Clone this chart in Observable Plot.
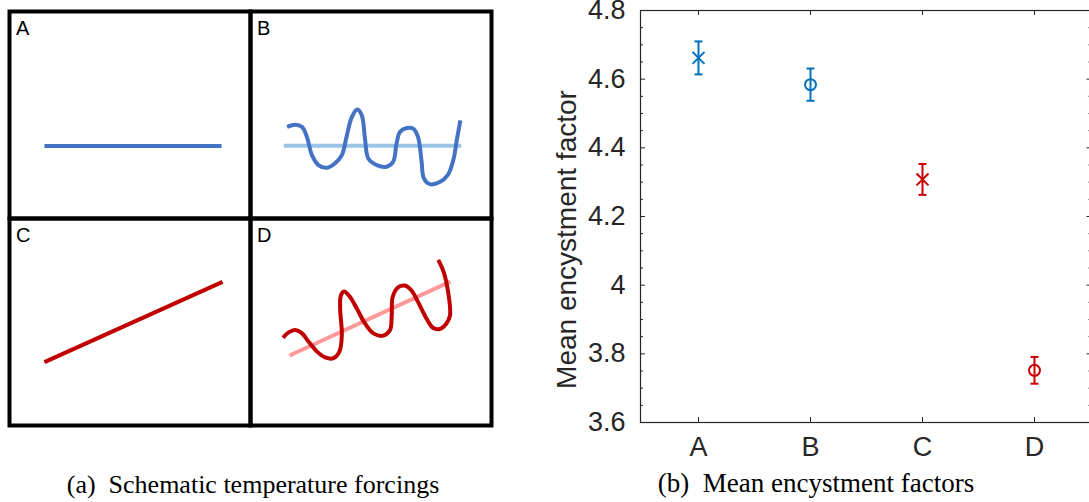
<!DOCTYPE html>
<html><head><meta charset="utf-8">
<script src="https://cdn.jsdelivr.net/npm/d3@7"></script>
<script src="https://cdn.jsdelivr.net/npm/@observablehq/plot@0.6"></script>
<style>
html,body{margin:0;padding:0;background:#fff;overflow:hidden;width:1089px;height:502px}
#wrap{position:relative;width:1089px;height:502px;overflow:hidden;background:#fff}
#left{position:absolute;left:0;top:0;width:500px}
#right{position:absolute;left:540px;top:0;width:560px}
#wrap svg{max-width:none}
.cap{position:absolute;top:471px;font-family:"Liberation Serif","Times New Roman",serif;font-size:26px;line-height:27px;white-space:nowrap;color:#000;transform:translateX(-50%)}
</style></head><body>
<div id="wrap">
  <div id="left"></div>
  <div id="right"></div>
  <div class="cap" style="left:253px">(a)&#8194;Schematic temperature forcings</div>
  <div class="cap" style="left:816px;font-size:27px;top:470px">(b)&#8194;Mean encystment factors</div>
</div>
<script>
// ---------- Panel (a): schematic forcings (units 0-100 inside each box) ----------
const panelLabels = ["A", "B", "C", "D"];
const panelColumn = ["left", "right", "left", "right"];
const panelRow = ["top", "top", "bottom", "bottom"];

const lineA = [[14.5, 35], [88.0, 35]];
const meanB = [[13.8, 35.1], [87.5, 35.1]];
const waveB = [[15.2,44.2],[18.6,45.3],[21.4,44.2],[23.4,39.4],[25.5,30.6],[28.2,25.8],[31.7,24.5],[35.1,26.7],[37.9,30.6],[40.0,40.2],[42.0,48.9],[44.3,52.6],[46.2,49.8],[47.5,38.6],[48.9,29.0],[52.4,25.8],[56.5,25.0],[59.2,27.4],[60.6,36.2],[62.0,41.8],[64.8,43.7],[67.5,43.4],[69.5,39.4],[71.0,27.4],[71.9,19.5],[74.4,16.6],[78.5,17.6],[81.9,21.1],[84.3,29.0],[85.7,38.6],[87.1,47.4]];
const lineC = [[14.5, 30.6], [88.4, 69.4]];
const trendD = [[16.2, 33.8], [82.9, 69.5]];
const waveD = [[13.5,42.4],[15.8,45.0],[18.6,46.1],[21.4,44.5],[24.1,40.5],[27.6,35.7],[31.0,32.9],[34.4,32.5],[36.9,35.7],[37.9,43.7],[37.2,56.5],[37.5,62.8],[38.8,64.7],[41.3,62.1],[44.1,56.5],[47.5,49.3],[51.0,44.5],[55.1,43.4],[57.9,46.1],[58.6,53.3],[59.0,62.1],[61.3,66.8],[64.0,67.6],[66.8,65.2],[69.5,59.7],[73.0,51.7],[75.7,47.2],[78.5,46.6],[81.3,49.3],[82.8,53.3],[82.0,64.5],[80.2,74.0],[77.9,80.0]];

const schematicSeries = [
  {panel: "A", points: lineA,  color: "#4472C4"},
  {panel: "B", points: meanB,  color: "#9DC3E6"},
  {panel: "B", points: waveB,  color: "#4472C4"},
  {panel: "C", points: lineC,  color: "#C00000"},
  {panel: "D", points: trendD, color: "#FF9999"},
  {panel: "D", points: waveD,  color: "#C00000"}
];

const colOf = p => panelColumn[panelLabels.indexOf(p)];
const rowOf = p => panelRow[panelLabels.indexOf(p)];

const leftPlot = Plot.plot({
  width: 500, height: 440,
  marginLeft: 8.7, marginRight: 9, marginTop: 10.3, marginBottom: 14,
  x: {domain: [0, 100], axis: null},
  y: {domain: [0, 100], axis: null},
  fx: {domain: ["left", "right"], padding: 0, axis: null},
  fy: {domain: ["top", "bottom"], padding: 0, axis: null},
  style: {background: "white", fontFamily: "Liberation Sans, Arial, sans-serif", maxWidth: "none"},
  marks: [
    ...schematicSeries.map(s => Plot.line(s.points, {
      x: p => p[0], y: p => p[1],
      fx: () => colOf(s.panel), fy: () => rowOf(s.panel),
      stroke: s.color, strokeWidth: 4, curve: "catmull-rom",
      strokeLinecap: "butt", strokeLinejoin: "round"
    })),
    Plot.frame({stroke: "black", strokeWidth: 4}),
    Plot.text(panelLabels, {
      text: d => d,
      fx: (d, i) => panelColumn[i], fy: (d, i) => panelRow[i],
      frameAnchor: "top-left", textAnchor: "start", lineAnchor: "top",
      dx: 6.5, dy: 9, fontSize: 20, fill: "black"
    })
  ]
});
document.getElementById("left").appendChild(leftPlot);

// ---------- Panel (b): mean encystment factors ----------
const categories = ["A", "B", "C", "D"];
const means = [4.662, 4.584, 4.308, 3.752];
const errors = [0.048, 0.047, 0.045, 0.039];
const markerShapes = ["times", "circle", "times", "circle"];
const markerColors = ["#0072BD", "#0072BD", "#CC0000", "#CC0000"];
const yMajorTicks = [3.6, 3.8, 4.0, 4.2, 4.4, 4.6, 4.8];
const yTickLabels = ["3.6", "3.8", "4", "4.2", "4.4", "4.6", "4.8"];
const yMinorTicks = [3.65, 3.7, 3.75, 3.85, 3.9, 3.95, 4.05, 4.1, 4.15, 4.25, 4.3, 4.35, 4.45, 4.5, 4.55, 4.65, 4.7, 4.75];

const pts = categories.map((c, i) => ({
  cat: c, mean: means[i], lo: means[i] - errors[i], hi: means[i] + errors[i],
  shape: markerShapes[i], color: markerColors[i]
}));

const W = 560, H = 470, mL = 100, mR = 8.5, mT = 10, mB = 48;
const fw = W - mL - mR, fh = H - mT - mB;
const capSymbol = {draw(ctx) { ctx.moveTo(-4, 0); ctx.lineTo(4, 0); }};
const axisColor = "#262626";

const rightPlot = Plot.plot({
  width: W, height: H,
  marginLeft: mL, marginRight: mR, marginTop: mT, marginBottom: mB,
  x: {type: "point", domain: categories, padding: 0.5, axis: null},
  y: {domain: [3.6, 4.8], axis: null},
  color: {type: "identity"},
  symbol: {domain: ["times", "circle"], range: ["times", "circle"]},
  style: {background: "white", color: axisColor, fontFamily: "Liberation Sans, Arial, sans-serif", maxWidth: "none", overflow: "visible"},
  marks: [
    Plot.frame({stroke: axisColor, strokeWidth: 1.2}),
    Plot.tickY(yMajorTicks, {y: d => d, insetRight: fw - 5, stroke: axisColor}),
    Plot.tickY(yMinorTicks, {y: d => d, insetRight: fw - 3, stroke: axisColor}),
    Plot.tickY(yMajorTicks, {y: d => d, insetLeft: fw - 5, stroke: axisColor}),
    Plot.tickY(yMinorTicks, {y: d => d, insetLeft: fw - 3, stroke: axisColor}),
    Plot.tickX(categories, {x: d => d, insetTop: fh - 5, stroke: axisColor}),
    Plot.tickX(categories, {x: d => d, insetBottom: fh - 5, stroke: axisColor}),
    Plot.text(yMajorTicks, {y: d => d, text: (d, i) => yTickLabels[i], frameAnchor: "left",
      textAnchor: "end", lineAnchor: "middle", dx: -15, fontSize: 27, fill: axisColor}),
    Plot.text(categories, {x: d => d, text: d => d, frameAnchor: "bottom",
      textAnchor: "middle", lineAnchor: "top", dy: 14, fontSize: 27, fill: axisColor}),
    Plot.text(["Mean encystment factor"], {text: d => d, frameAnchor: "left", textAnchor: "middle",
      lineAnchor: "middle", rotate: -90, dx: -73, dy: 23, fontSize: 28, fill: axisColor}),
    Plot.ruleX(pts, {x: "cat", y1: "lo", y2: "hi", stroke: "color", strokeWidth: 2}),
    Plot.dot(pts, {x: "cat", y: "hi", symbol: capSymbol, stroke: "color", fill: "none", strokeWidth: 2}),
    Plot.dot(pts, {x: "cat", y: "lo", symbol: capSymbol, stroke: "color", fill: "none", strokeWidth: 2}),
    Plot.dot(pts, {x: "cat", y: "mean", symbol: "shape", r: 5.5, stroke: "color", fill: "none", strokeWidth: 2})
  ]
});
document.getElementById("right").appendChild(rightPlot);
</script>
</body></html>
